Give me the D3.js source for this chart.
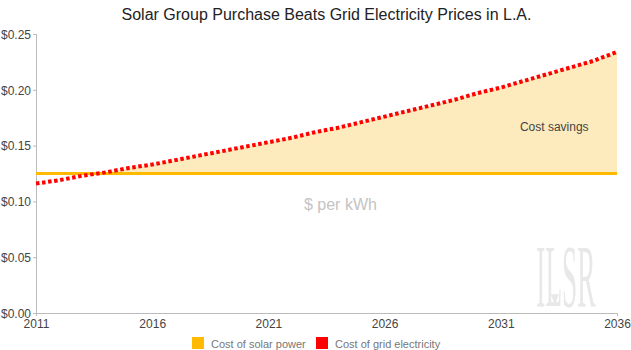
<!DOCTYPE html>
<html>
<head>
<meta charset="utf-8">
<script src="https://cdn.jsdelivr.net/npm/d3@7"></script>
<style>
  body { margin: 0; background: #fff; }
  text { font-family: "Liberation Sans", Arial, sans-serif; }
</style>
</head>
<body>
<div id="chart"></div>
<script>
// data
const years = d3.range(2011, 2037);
const gridPrice = [0.116, 0.119, 0.123, 0.126, 0.130, 0.133, 0.137, 0.141, 0.145, 0.149,
                   0.153, 0.157, 0.162, 0.166, 0.171, 0.176, 0.181, 0.186, 0.191, 0.197,
                   0.202, 0.208, 0.214, 0.220, 0.226, 0.234];
const solarPrice = years.map(() => 0.125);
const yTicks = [0, 0.05, 0.10, 0.15, 0.20, 0.25];
const xTicks = [2011, 2016, 2021, 2026, 2031, 2036];
const legendItems = [
    {label: "Cost of solar power", color: "#FFBA00"},
    {label: "Cost of grid electricity", color: "#FF0000"}
];

const W = 631, H = 350;
const margin = {top: 34, right: 14, bottom: 37, left: 36};
const width = W - margin.left - margin.right;
const height = H - margin.top - margin.bottom;

const svg = d3.select("#chart").append("svg")
    .attr("width", W)
    .attr("height", H);

// title
svg.append("text")
    .attr("x", margin.left + width / 2)
    .attr("y", 20)
    .attr("text-anchor", "middle")
    .style("font-size", "16px")
    .style("fill", "#222")
    .text("Solar Group Purchase Beats Grid Electricity Prices in L.A.");

const g = svg.append("g")
    .attr("transform", `translate(${margin.left},${margin.top})`);

const x = d3.scaleLinear().domain([2011, 2036]).range([0, width]);
const y = d3.scaleLinear().domain([0, 0.25]).range([height, 0]);

const rows = years.map((yr, i) => ({year: yr, grid: gridPrice[i], solar: solarPrice[i]}));

// logo watermark
const logo = g.append("g")
    .attr("transform", `translate(${x(2033.8)},${y(0.006)})`);
logo.append("text")
    .attr("text-anchor", "middle")
    .attr("transform", "scale(0.31,1)")
    .style("font-family", "'Liberation Serif', 'DejaVu Serif', serif")
    .style("font-size", "88px")
    .style("fill", "#e8e8e8")
    .text("ILSR");
logo.append("path")
    .attr("d", "M-15,-12 L-7,-12 L-11,-1 Z")
    .style("fill", "#e8e8e8");

// savings area
const area = d3.area()
    .x(d => x(d.year))
    .y0(d => y(d.solar))
    .y1(d => y(Math.max(d.grid, d.solar)));

// add the crossing point so the fill starts exactly there
const areaRows = [];
rows.forEach((d, i) => {
    if (i > 0) {
        const p = rows[i - 1];
        const a = p.grid - p.solar, b = d.grid - d.solar;
        if (a < 0 && b > 0) {
            const t = a / (a - b);
            areaRows.push({year: p.year + t, grid: p.solar, solar: p.solar});
        }
    }
    areaRows.push(d);
});

g.append("path")
    .datum(areaRows)
    .attr("d", area)
    .style("fill", "#FDEBBD");

// axes
const yAxis = d3.axisLeft(y).tickValues(yTicks).tickSize(3).tickFormat(d3.format("$.2f"));
const xAxis = d3.axisBottom(x).tickValues(xTicks).tickSizeInner(0).tickSizeOuter(3).tickFormat(d3.format("d"));

const yG = g.append("g").call(yAxis);
const xG = g.append("g").attr("transform", `translate(0,${height})`).call(xAxis);

[yG, xG].forEach(ax => {
    ax.select(".domain").style("stroke", "#bbb");
    ax.selectAll(".tick line").style("stroke", "#bbb");
    ax.selectAll(".tick text")
        .style("font-size", "12px")
        .style("fill", "#444")
        .style("font-family", "'Liberation Sans', Arial, sans-serif");
});
yG.selectAll(".tick text").attr("x", -5).attr("dy", "0.35em");
xG.selectAll(".tick text").attr("y", 6).attr("dy", "0.71em");

// lines
const solarLine = d3.line().x(d => x(d.year)).y(d => y(d.solar));
const gridLine = d3.line().x(d => x(d.year)).y(d => y(d.grid));

g.append("path")
    .datum(rows)
    .attr("d", solarLine)
    .style("fill", "none")
    .style("stroke", legendItems[0].color)
    .style("stroke-width", 3);

g.append("path")
    .datum(rows)
    .attr("d", gridLine)
    .style("fill", "none")
    .style("stroke", legendItems[1].color)
    .style("stroke-width", 4)
    .style("stroke-dasharray", "3.5,2.6");

// annotations
g.append("text")
    .attr("x", x(2033.3))
    .attr("y", y(0.163))
    .attr("text-anchor", "middle")
    .style("font-size", "12px")
    .style("fill", "#444")
    .text("Cost savings");

g.append("text")
    .attr("x", x(2024.1))
    .attr("y", y(0.0925))
    .attr("text-anchor", "middle")
    .style("font-size", "16px")
    .style("fill", "#c4c4c4")
    .text("$ per kWh");

// legend
const legend = svg.append("g").attr("transform", "translate(192,337)");
const legendX = [0, 124];
legendItems.forEach((item, i) => {
    const lg = legend.append("g").attr("transform", `translate(${legendX[i]},0)`);
    lg.append("rect")
        .attr("width", 12)
        .attr("height", 12)
        .style("fill", item.color);
    lg.append("text")
        .attr("x", 19)
        .attr("y", 10.5)
        .style("font-size", "11px")
        .style("fill", "#777")
        .text(item.label);
});
</script>
</body>
</html>
